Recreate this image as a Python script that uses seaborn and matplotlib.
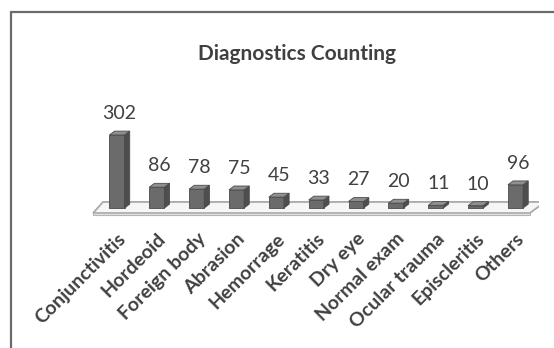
import matplotlib
matplotlib.use("Agg")
import matplotlib.pyplot as plt
from matplotlib.patches import Polygon
from matplotlib.lines import Line2D
import seaborn as sns
import pandas as pd

# Diagnoses and how many times each was counted
categories = ["Conjunctivitis", "Hordeoid", "Foreign body", "Abrasion", "Hemorrage",
              "Keratitis", "Dry eye", "Normal exam", "Ocular trauma", "Episcleritis", "Others"]
counts = [302, 86, 78, 75, 45, 33, 27, 20, 11, 10, 96]
title = "Diagnostics Counting"

df = pd.DataFrame({"diagnosis": categories, "count": counts})

sns.set_theme(style="white")
plt.rcParams["font.family"] = ["Lato", "DejaVu Sans"]

TEXT = "#404040"
FRONT = "#6b6b6b"
SIDE = "#4e4e4e"
TOP = "#8f8f8f"
EDGE = "#4a4a4a"

W, H = 554, 348
fig = plt.figure(figsize=(W / 100, H / 100), dpi=100)
fig.patch.set_facecolor("white")
ax = fig.add_axes([81.1 / W, (H - 230) / H, 458.3 / W, 140 / H])

sns.barplot(data=df, x="diagnosis", y="count", color=FRONT, width=0.38,
            saturation=1, edgecolor=EDGE, linewidth=0.6, ax=ax, zorder=3)

ax.set_xlim(-0.9, 10.6)
ax.set_ylim(-91, 488)

# pseudo-3D depth offsets in data units
dx, dy = 0.13, 16

# floor slab under the bars
n = len(categories)
fl, fr = -0.60, n - 1 + 0.36
floor = Polygon([(fl, -21), (fr, -21), (fr + 0.38, 25), (fl + 0.25, 25)],
                closed=True, facecolor="#f6f6f6", edgecolor="#a9a9a9",
                linewidth=1.3, zorder=1)
ax.add_patch(floor)
slab = Polygon([(fl, -21), (fr, -21), (fr, -29), (fl, -29)], closed=True,
               facecolor="#e6e6e6", edgecolor="#b5b5b5", linewidth=0.8, zorder=1)
ax.add_patch(slab)

for bar, v in zip(ax.patches[:n], counts):
    x0 = bar.get_x()
    w = bar.get_width()
    h = bar.get_height()
    side = Polygon([(x0 + w, 0), (x0 + w + dx, dy), (x0 + w + dx, h + dy), (x0 + w, h)],
                   closed=True, facecolor=SIDE, edgecolor=EDGE, linewidth=0.6, zorder=3)
    top = Polygon([(x0, h), (x0 + dx, h + dy), (x0 + w + dx, h + dy), (x0 + w, h)],
                  closed=True, facecolor=TOP, edgecolor=EDGE, linewidth=0.6, zorder=3)
    ax.add_patch(side)
    ax.add_patch(top)
    ax.annotate(f"{v}", xy=(x0 + w / 2 + dx / 2, h), xytext=(0, 15.5),
                textcoords="offset points", ha="center", va="center",
                fontsize=14, color=TEXT, annotation_clip=False)

ax.set_xlabel("")
ax.set_ylabel("")
ax.set_yticks([])
ax.tick_params(axis="x", length=0, pad=0)
ax.set_xticks(range(n))
ax.set_xticklabels(categories, rotation=45, ha="right", va="top",
                   rotation_mode="anchor", fontsize=14, color=TEXT,
                   fontweight="bold")
for s in ax.spines.values():
    s.set_visible(False)
ax.patch.set_alpha(0)

fig.text(297 / W, 1 - 54 / H, title, ha="center", va="center",
         fontsize=15, fontweight="bold", color=TEXT)

# chart frame (left and top edges)
fig.add_artist(Line2D([11 / W, 11 / W], [0, 1 - 12 / H], color="#6b6b6b",
                      linewidth=1.6, transform=fig.transFigure))
fig.add_artist(Line2D([11 / W, 1], [1 - 12 / H, 1 - 12 / H], color="#6b6b6b",
                      linewidth=1.6, transform=fig.transFigure))

fig.savefig("out.png", dpi=100, facecolor="white")
